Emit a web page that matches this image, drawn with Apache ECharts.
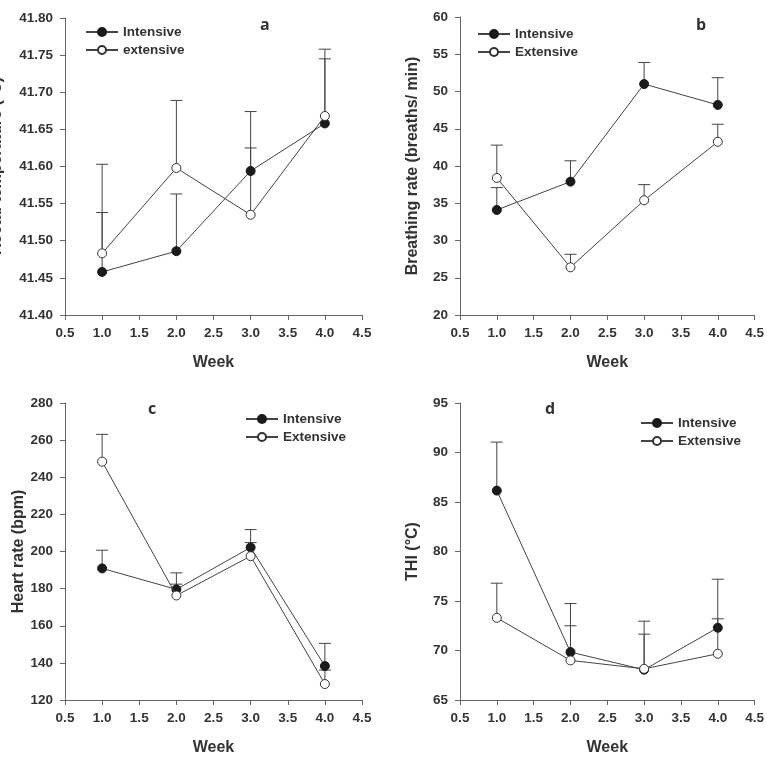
<!DOCTYPE html>
<html>
<head>
<meta charset="utf-8">
<script src="https://cdn.jsdelivr.net/npm/echarts@6/dist/echarts.min.js"></script>
<style>
  html, body { margin: 0; padding: 0; background: #fff; }
  #chart { width: 767px; height: 763px; }
</style>
</head>
<body>
<div id="chart"></div>
<script>
// weeks on the x axis
const weeks = [1, 2, 3, 4]

// a: rectal temperature (°C)
const rtIntensive = [41.458, 41.486, 41.594, 41.658]
const rtIntensiveErr = [0.080, 0.077, 0.031, 0.100]
const rtExtensive = [41.483, 41.598, 41.535, 41.668]
const rtExtensiveErr = [0.120, 0.091, 0.139, 0.077]

// b: breathing rate (breaths/min)
const brIntensive = [34.1, 37.9, 51.0, 48.2]
const brIntensiveErr = [3.0, 2.8, 2.9, 3.65]
const brExtensive = [38.4, 26.4, 35.4, 43.25]
const brExtensiveErr = [4.4, 1.75, 2.1, 2.35]

// c: heart rate (bpm)
const hrIntensive = [190.9, 179.6, 202.2, 138.3]
const hrIntensiveErr = [9.8, 8.9, 9.6, 12.2]
const hrExtensive = [248.4, 176.3, 197.5, 128.6]
const hrExtensiveErr = [14.7, 6.1, 7.3, 7.5]

// d: THI (°C)
const thiIntensive = [86.15, 69.84, 68.06, 72.3]
const thiIntensiveErr = [4.9, 4.9, 4.9, 4.9]
const thiExtensive = [73.3, 69.0, 68.15, 69.67]
const thiExtensiveErr = [3.5, 3.5, 3.5, 3.53]

// axis ranges / tick labels
const xRange = { min: 0.5, max: 4.5, interval: 0.5 }
const yRanges = [
  { min: 41.40, max: 41.80, interval: 0.05, decimals: 2 },
  { min: 20, max: 60, interval: 5, decimals: 0 },
  { min: 120, max: 280, interval: 20, decimals: 0 },
  { min: 65, max: 95, interval: 5, decimals: 0 }
]
const yNames = ['Rectal temperature (°C)', 'Breathing rate (breaths/ min)', 'Heart rate (bpm)', 'THI (°C)']
const panelLetters = ['a', 'b', 'c', 'd']
const extNames = ['extensive', 'Extensive', 'Extensive', 'Extensive']

const panels = [
  [rtIntensive, rtIntensiveErr, rtExtensive, rtExtensiveErr],
  [brIntensive, brIntensiveErr, brExtensive, brExtensiveErr],
  [hrIntensive, hrIntensiveErr, hrExtensive, hrExtensiveErr],
  [thiIntensive, thiIntensiveErr, thiExtensive, thiExtensiveErr]
]

const font = 'Liberation Sans, Arial, sans-serif'
const ink = '#333'
const lineCol = '#444'
const nameStyle = { fontFamily: font, fontWeight: 'bold', fontSize: 16, color: ink }

const grids = [
  { left: 65, top: 18, width: 297, height: 297 },
  { left: 460, top: 17, width: 297, height: 298 },
  { left: 65, top: 403, width: 297, height: 297 },
  { left: 460, top: 403, width: 297, height: 297 }
]
const yNameGaps = [59, 39, 32, 39]
const letterPos = [[255, 12], [691, 12], [143, 396], [540, 396]]
const legendPos = [[85, 25], [477, 27], [245, 412], [640, 416]]

// error bar: vertical line from mean up to mean + err with a cap
const errorBar = (params, api) => {
  const x = api.value(0)
  const p0 = api.coord([x, api.value(1)])
  const p1 = api.coord([x, api.value(2)])
  const style = { stroke: lineCol, lineWidth: 1 }
  return {
    type: 'group',
    children: [
      { type: 'line', shape: { x1: p0[0], y1: p0[1], x2: p1[0], y2: p1[1] }, style },
      { type: 'line', shape: { x1: p1[0] - 6, y1: p1[1], x2: p1[0] + 6, y2: p1[1] }, style }
    ]
  }
}

const chart = echarts.init(document.getElementById('chart'))

const xAxis = []
const yAxis = []
const series = []
const errSeries = []
const title = []
const legend = []

panels.forEach((p, i) => {
  const [intMean, intErr, extMean, extErr] = p
  const yr = yRanges[i]
  xAxis.push({
    gridIndex: i, type: 'value', min: xRange.min, max: xRange.max, interval: xRange.interval,
    name: 'Week', nameLocation: 'middle', nameGap: 40, nameTextStyle: nameStyle,
    axisLine: { lineStyle: { color: '#666' } },
    axisTick: { show: true, length: 5, lineStyle: { color: '#666' } },
    splitLine: { show: false },
    axisLabel: { fontFamily: font, fontWeight: 'bold', fontSize: 13.5, color: ink, margin: 11,
      formatter: v => v.toFixed(1) }
  })
  yAxis.push({
    gridIndex: i, type: 'value', min: yr.min, max: yr.max, interval: yr.interval,
    // panel a: the label runs off the left edge in the original, drawn as graphic below
    name: i === 0 ? '' : yNames[i], nameLocation: 'middle', nameGap: yNameGaps[i], nameRotate: 90,
    nameTextStyle: nameStyle,
    axisLine: { show: true, lineStyle: { color: '#666' } },
    axisTick: { show: true, length: 5, lineStyle: { color: '#666' } },
    splitLine: { show: false },
    axisLabel: { fontFamily: font, fontWeight: 'bold', fontSize: 13.5, color: ink, margin: 12,
      formatter: v => v.toFixed(yr.decimals) }
  })
  title.push({
    text: panelLetters[i], left: letterPos[i][0], top: letterPos[i][1],
    textStyle: { fontFamily: 'Open Sans, sans-serif', fontWeight: 'bold', fontSize: 16, color: ink }
  })
  legend.push({
    orient: 'vertical', left: legendPos[i][0], top: legendPos[i][1], padding: 0,
    itemWidth: 32, itemHeight: 10, itemGap: 4,
    data: ['Intensive', extNames[i]],
    textStyle: { fontFamily: font, fontWeight: 'bold', fontSize: 13.5, color: ink }
  })
  series.push({
    type: 'line', name: 'Intensive', xAxisIndex: i, yAxisIndex: i, z: 3,
    symbol: 'circle', symbolSize: 9,
    lineStyle: { color: lineCol, width: 1 },
    itemStyle: { color: '#1a1a1a', borderColor: '#1a1a1a', borderWidth: 1 },
    data: weeks.map((w, k) => [w, intMean[k]])
  })
  series.push({
    type: 'line', name: extNames[i], xAxisIndex: i, yAxisIndex: i, z: 4,
    symbol: 'circle', symbolSize: 9,
    lineStyle: { color: lineCol, width: 1 },
    itemStyle: { color: '#fff', borderColor: '#333', borderWidth: 1 },
    data: weeks.map((w, k) => [w, extMean[k]])
  })
  // error bars (drawn under the markers)
  errSeries.push({
    type: 'custom', name: 'Intensive SE', xAxisIndex: i, yAxisIndex: i, z: 1,
    renderItem: errorBar, encode: { x: 0, y: [1, 2] },
    data: weeks.map((w, k) => [w, intMean[k], intMean[k] + intErr[k]])
  })
  errSeries.push({
    type: 'custom', name: extNames[i] + ' SE', xAxisIndex: i, yAxisIndex: i, z: 1,
    renderItem: errorBar, encode: { x: 0, y: [1, 2] },
    data: weeks.map((w, k) => [w, extMean[k], extMean[k] + extErr[k]])
  })
})

chart.setOption({
  backgroundColor: '#fff',
  animation: false,
  grid: grids,
  xAxis, yAxis, title, legend,
  series: series.concat(errSeries),
  graphic: [{
    type: 'text', x: -3, y: 166, rotation: Math.PI / 2,
    style: { text: yNames[0], align: 'center', verticalAlign: 'middle',
      font: 'bold 16px ' + font, fill: ink }
  }]
})
</script>
</body>
</html>
